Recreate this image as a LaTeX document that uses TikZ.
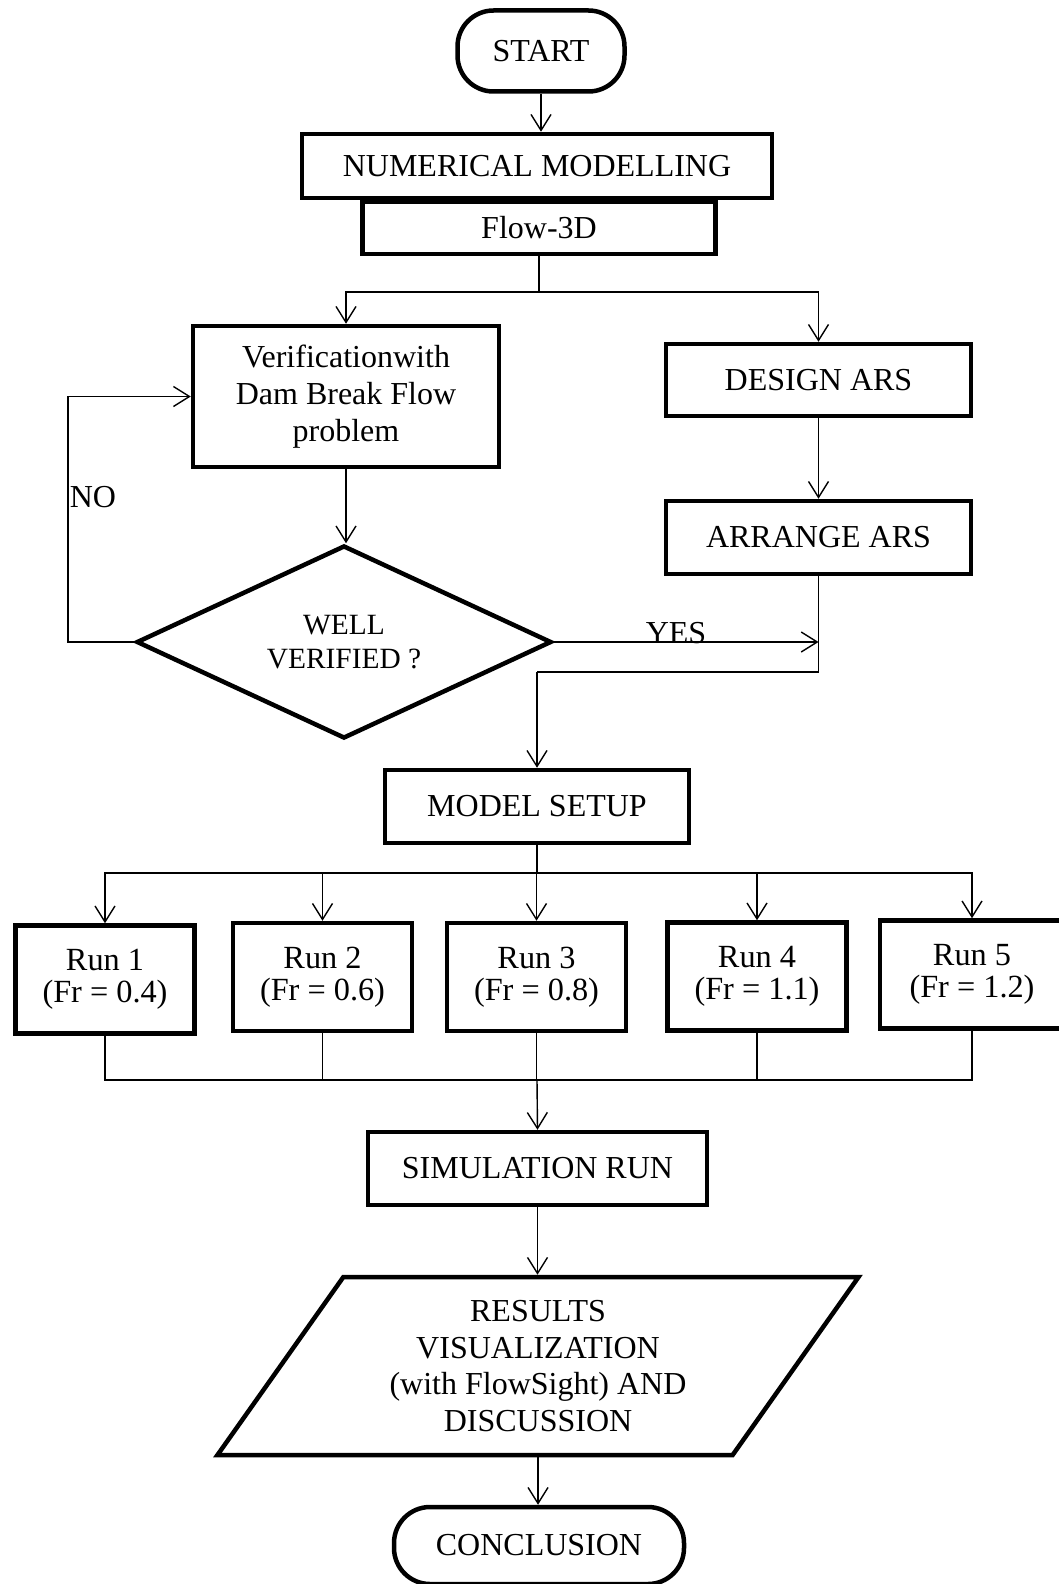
\documentclass[tikz,border=0pt]{standalone}
\usepackage{fontspec}
\setmainfont{Liberation Serif}
\usetikzlibrary{arrows.meta,shapes.geometric}
\begin{document}
\begin{tikzpicture}[x=1pt,y=-1pt,
  box/.style={draw,line width=4.5pt,inner sep=0pt,align=center,font=\fontsize{32}{37}\selectfont},
  runbox/.style={box,minimum width=179,minimum height=108,font=\fontsize{32.3}{32.5}\selectfont},
  terminal/.style={box,rounded corners=36pt},
  conn/.style={line width=1.4pt},
  arr/.style={conn,-{Straight Barb[length=16pt,width=20pt]}},
  lbl/.style={inner sep=0pt,font=\fontsize{32}{37}\selectfont},
]
\useasboundingbox (0,0) rectangle (1059,1584);

% nodes
\node[terminal,minimum width=167,minimum height=81] (start) at (541,51) {START};
\node[box,minimum width=470,minimum height=64] (num) at (537,166) {NUMERICAL MODELLING};
\node[box,minimum width=353,minimum height=52] (flow) at (539,228) {Flow-3D};
\node[box,minimum width=306,minimum height=141] (verif) at (346,396.5) {Verificationwith\\Dam Break Flow\\problem};
\node[box,minimum width=305,minimum height=72] (design) at (818.5,380) {DESIGN ARS};
\node[box,minimum width=305,minimum height=73] (arrange) at (818.5,537.5) {ARRANGE ARS};
\node[box,diamond,aspect=2.1,minimum width=415,minimum height=193,font=\fontsize{29.4}{33.5}\selectfont] (dia) at (344,642) {WELL\\VERIFIED ?};
\node[box,minimum width=304,minimum height=73] (model) at (537,806.5) {MODEL SETUP};

\node[runbox] (run1) at (105,979.5) {Run 1\\(Fr = 0.4)};
\node[runbox] (run2) at (322.5,977) {Run 2\\(Fr = 0.6)};
\node[runbox] (run3) at (536.5,977) {Run 3\\(Fr = 0.8)};
\node[runbox] (run4) at (757,976.5) {Run 4\\(Fr = 1.1)};
\node[runbox,minimum width=184] (run5) at (972,974.5) {Run 5\\(Fr = 1.2)};

\node[box,minimum width=339,minimum height=73] (sim) at (537.5,1168.5) {SIMULATION RUN};
\node[box,trapezium,trapezium left angle=54,trapezium right angle=126,trapezium stretches=true,
      minimum width=646,minimum height=178,font=\fontsize{32}{36.9}\selectfont] (results) at (538,1366)
      {RESULTS\\VISUALIZATION\\(with FlowSight) AND\\DISCUSSION};
\node[terminal,minimum width=290,minimum height=77] (concl) at (539,1545.5) {CONCLUSION};

% labels
\node[lbl] (no) at (93,497) {NO};
\node[lbl] (yes) at (676,633) {YES};

% helper coordinates
\coordinate (split) at (539,292);
\coordinate (mj) at (537,672);
\coordinate (fork) at (537,873);
\coordinate (merge) at (537,1080);
\coordinate (loopx) at (68,642);

% connectors
\draw[arr] (start.south) -- (start.south |- num.north);
\draw[conn] (flow.south) -- (split);
\draw[arr] (split) -| (verif.north);
\draw[arr] (split) -| (design.north);
\draw[arr] (design.south) -- (arrange.north);
\draw[arr] (verif.south) -- (verif.south |- dia.north);
\draw[arr] (dia.west) -- (loopx) |- (verif.west);
\draw[arr] (dia.east) -- (arrange.south |- dia.east);
\draw[conn] (arrange.south) |- (mj);
\draw[arr] (mj) -- (model.north);

\draw[conn] (model.south) -- (fork);
\draw[arr] (fork) -| (run1.north);
\draw[arr] (fork) -| (run2.north);
\draw[arr] (fork) -- (fork -| run3.north) -- (run3.north);
\draw[arr] (fork) -| (run4.north);
\draw[arr] (fork) -| (run5.north);

\draw[conn] (run1.south) |- (merge);
\draw[conn] (run2.south) -- (run2.south |- merge);
\draw[conn] (run3.south) -- (run3.south |- merge);
\draw[conn] (run4.south) -- (run4.south |- merge);
\draw[conn] (run5.south) |- (merge);
\draw[arr] (merge) -- (sim.north);

\draw[arr] (sim.south) -- (sim.south |- results.north);
\draw[arr] (results.south) -- (results.south |- concl.north);
\end{tikzpicture}
\end{document}
